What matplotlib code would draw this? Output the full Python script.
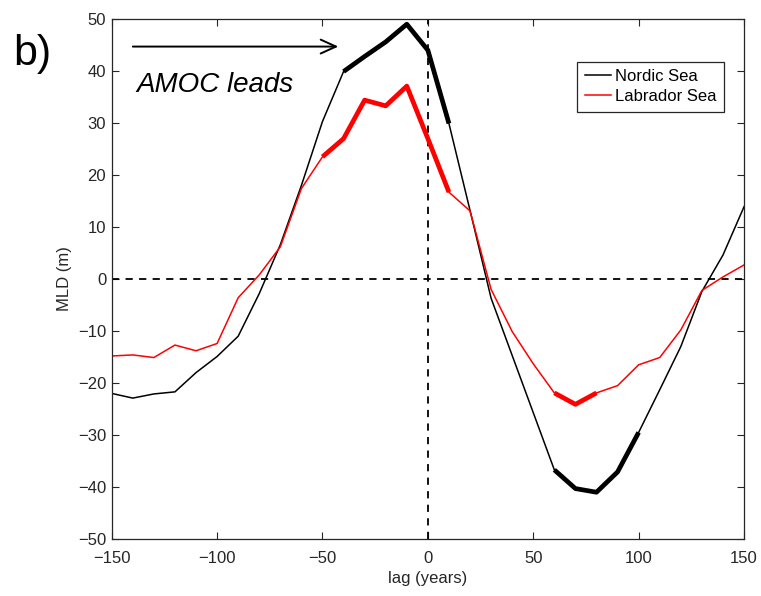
import numpy as np
import matplotlib
matplotlib.use('Agg')
import matplotlib.pyplot as plt

plt.rcParams['font.family'] = ['Liberation Sans', 'DejaVu Sans']

lag = np.arange(-150, 151, 10)

nordic = [-22.0, -22.9, -22.1, -21.7, -18.0, -14.9, -11.0, -2.8, 6.6, 18.0,
          30.3, 39.9, 42.8, 45.6, 49.0, 44.0, 29.9, 13.2, -3.7, -14.7,
          -25.7, -36.7, -40.3, -41.0, -37.1, -29.5, -21.3, -13.0, -2.4, 4.6,
          13.9]
labrador = [-14.8, -14.6, -15.1, -12.7, -13.8, -12.4, -3.6, 0.8, 6.2, 17.4,
            23.5, 27.0, 34.4, 33.3, 37.1, 27.0, 16.7, 13.1, -2.0, -10.1,
            -16.3, -21.9, -24.1, -21.9, -20.5, -16.5, -15.1, -9.8, -2.2, 0.4,
            2.7]

# lags where the correlation is significant (drawn thick)
nordic_sig = [-40, -30, -20, -10, 0, 10, 60, 70, 80, 90, 100]
labrador_sig = [-50, -40, -30, -20, -10, 0, 10, 60, 70, 80]

axcol = '#262626'

fig = plt.figure(figsize=(7.61, 5.96), dpi=100, facecolor='white')
ax = fig.add_axes([0.1468, 0.0956, 0.8309, 0.8725])


def sig_line(y, sig, color):
    y = np.asarray(y)
    m = np.isin(lag, sig)
    ys = np.where(m, y, np.nan)
    ax.plot(lag, ys, color=color, lw=3.4, solid_capstyle='butt')


ax.axhline(0, color='k', ls='--', lw=1.3, dashes=(4, 3.5))
ax.axvline(0, color='k', ls='--', lw=1.3, dashes=(4, 3.5))

ax.plot(lag, nordic, color='k', lw=1.1, label='Nordic Sea')
ax.plot(lag, labrador, color='#ff0000', lw=1.1, label='Labrador Sea')
sig_line(nordic, nordic_sig, 'k')
sig_line(labrador, labrador_sig, '#ff0000')

ax.set_xlim(-150, 150)
ax.set_ylim(-50, 50)
ax.set_xticks(np.arange(-150, 151, 50))
ax.set_yticks(np.arange(-50, 51, 10))
ax.tick_params(direction='in', top=True, right=True, length=5, width=0.8,
               colors=axcol, labelsize=12, labelcolor=axcol)
ax.tick_params(axis='x', pad=8.5)
ax.tick_params(axis='y', pad=4)
for s in ax.spines.values():
    s.set_color(axcol)
    s.set_linewidth(0.9)

ax.set_xlabel('lag (years)', fontsize=12, color=axcol, labelpad=4)
ax.set_ylabel('MLD (m)', fontsize=12, color=axcol, labelpad=4)

leg = ax.legend(loc='upper right', bbox_to_anchor=(0.969, 0.918), fontsize=12,
                handlelength=1.6, handletextpad=0.25, borderpad=0.45,
                labelspacing=0.3, borderaxespad=0, fancybox=False,
                framealpha=1)
leg.get_frame().set_edgecolor(axcol)
leg.get_frame().set_linewidth(0.9)

ax.annotate('', xy=(-42.5, 44.7), xytext=(-140, 44.7),
            arrowprops=dict(arrowstyle='->,head_length=1.1,head_width=0.5',
                            color='k', lw=1.4, shrinkA=0, shrinkB=0))
ax.text(-138.3, 36.0, 'AMOC leads', fontsize=20, style='italic',
        ha='left', va='baseline')

fig.text(13 / 761, 1 - 65 / 596, 'b)', fontsize=31, ha='left', va='baseline')

fig.savefig('out.png', dpi=100)
